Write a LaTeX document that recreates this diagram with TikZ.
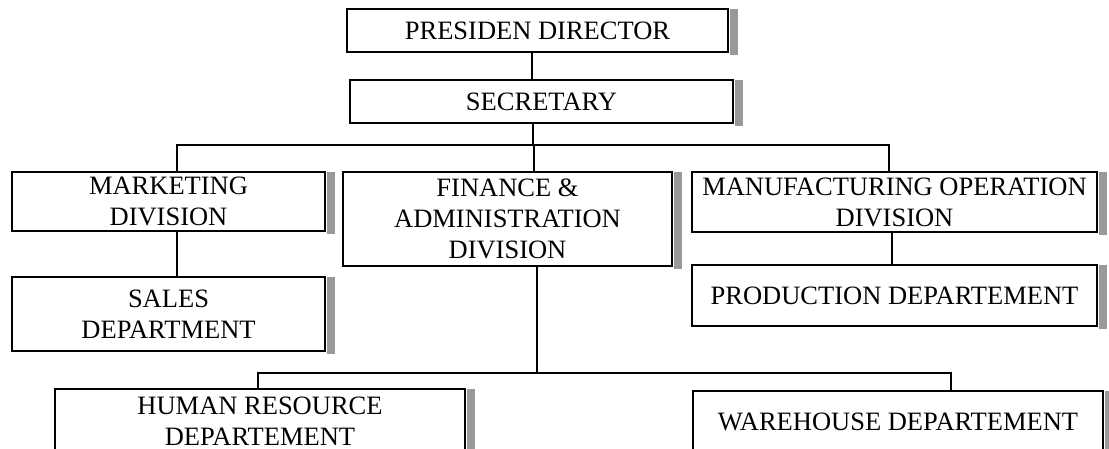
\documentclass[tikz,border=0pt]{standalone}
\usepackage{fontspec}
\setmainfont{Liberation Serif}
\begin{document}
\begin{tikzpicture}[x=1pt,y=-1pt,
  unitbox/.style={draw, line width=1.5pt, fill=white, align=center, inner sep=0pt,
    font=\fontsize{26.5}{31}\selectfont},
  wire/.style={line width=1.3pt},
  shade/.style={fill=black!40, draw=none}]
\useasboundingbox (0,0) rectangle (1109,448);
\clip (0,0) rectangle (1109,448);

% organisation units
\node[unitbox, minimum width=381pt, minimum height=43pt] (pres) at (537.5,30.5) {PRESIDEN DIRECTOR};
\node[unitbox, minimum width=383pt, minimum height=43pt] (sec) at (541.5,101.5) {SECRETARY};
\node[unitbox, minimum width=313pt, minimum height=59pt] (mkt) at (168.5,201.5) {MARKETING\\DIVISION};
\node[unitbox, minimum width=329pt, minimum height=94pt] (fin) at (507.5,219) {FINANCE \&\\ADMINISTRATION\\DIVISION};
\node[unitbox, minimum width=405pt, minimum height=60pt] (mfg) at (894.5,202) {MANUFACTURING OPERATION\\DIVISION};
\node[unitbox, minimum width=313pt, minimum height=74pt] (sales) at (168.5,314) {SALES\\DEPARTMENT};
\node[unitbox, minimum width=405pt, minimum height=61pt] (prod) at (894.5,295.5) {PRODUCTION DEPARTEMENT};
\node[unitbox, minimum width=410pt, minimum height=64pt] (hr) at (260,421) {HUMAN RESOURCE\\DEPARTEMENT};
\node[unitbox, minimum width=410pt, minimum height=62pt] (wh) at (898,422) {WAREHOUSE DEPARTEMENT};

% grey shadows on the right-hand side of every box
\foreach \n in {pres,sec,mkt,fin,mfg,sales,prod,hr,wh}{
  \fill[shade] ([xshift=0.75pt,yshift=-1pt]\n.north east) rectangle ([xshift=9pt,yshift=-2.5pt]\n.south east);
}

% junction points of the two horizontal bars
\coordinate (busA) at (533,145);
\coordinate (busB) at (537,373);

% connectors
\draw[wire] ([xshift=-5.5pt]pres.south) -- ([xshift=-5.5pt]pres.south |- sec.north);
\draw[wire] ([xshift=-8.5pt]sec.south) -- (busA);
\draw[wire] ([xshift=8.5pt]mkt.north) |- (busA) -| ([xshift=-5.5pt]mfg.north);
\draw[wire] ([xshift=26.5pt]fin.north) -- ([xshift=26.5pt]fin.north |- busA);
\draw[wire] ([xshift=8.5pt]mkt.south) -- ([xshift=8.5pt]mkt.south |- sales.north);
\draw[wire] ([xshift=-2.5pt]mfg.south) -- ([xshift=-2.5pt]mfg.south |- prod.north);
\draw[wire] ([xshift=29.5pt]fin.south) -- (busB);
\draw[wire] ([xshift=-2pt]hr.north) |- (busB) -| ([xshift=53pt]wh.north);
\end{tikzpicture}
\end{document}
